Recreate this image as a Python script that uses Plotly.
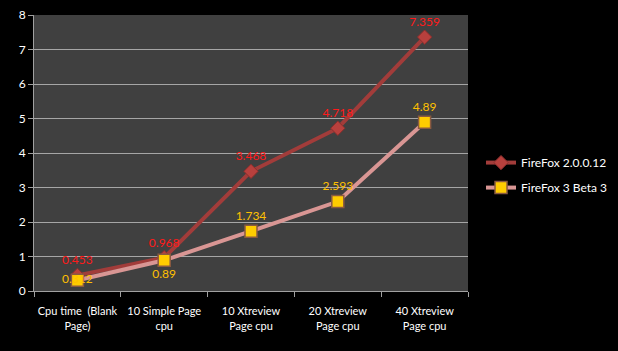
import plotly.graph_objects as go

categories = ["Cpu time  (Blank<br>Page)", "10 Simple Page<br>cpu", "10 Xtreview<br>Page cpu",
              "20 Xtreview<br>Page cpu", "40 Xtreview<br>Page cpu"]
ff2 = [0.453, 0.968, 3.468, 4.718, 7.359]
ff3 = [0.312, 0.89, 1.734, 2.593, 4.89]
ff3_textpos = ["middle center", "bottom center", "top center", "top center", "top center"]

font = "Lato, 'Open Sans', sans-serif"

fig = go.Figure()
fig.add_trace(go.Scatter(
    x=categories, y=ff2, name="FireFox 2.0.0.12", mode="lines+markers+text",
    legendgroup="a",
    line=dict(color="#a23c3a", width=4),
    marker=dict(symbol="diamond", size=11, color="#b8403d", line=dict(color="#8a2e2c", width=1)),
    text=[str(v) for v in ff2], textposition="top center",
    textfont=dict(color="#ff1a1a", size=12, family=font),
))
fig.add_trace(go.Scatter(
    x=categories, y=ff3, name="FireFox 3 Beta 3", mode="lines+markers+text",
    legendgroup="b",
    line=dict(color="#d99694", width=4),
    marker=dict(symbol="square", size=12, color="#ffcc00", line=dict(color="#8a5a40", width=1.5)),
    text=[str(v) for v in ff3], textposition=ff3_textpos,
    textfont=dict(color="#ffc000", size=12, family=font),
))

fig.update_layout(
    width=618, height=351,
    margin=dict(l=34, r=150, t=15, b=60, autoexpand=False),
    paper_bgcolor="black", plot_bgcolor="#404040",
    font=dict(family=font, color="white", size=12),
    showlegend=True,
    legend=dict(x=1.03, y=0.42, xanchor="left", yanchor="middle",
                font=dict(color="white", size=12, family=font), bgcolor="rgba(0,0,0,0)",
                tracegroupgap=6),
    xaxis=dict(showgrid=False, showline=True, linecolor="#a0a0a0", linewidth=1,
               ticks="outside", tickson="boundaries", tickcolor="#a0a0a0", ticklen=5,
               tickangle=0, automargin=False, ticklabelstandoff=10,
               tickfont=dict(color="white", size=11, family=font), range=[-0.5, 4.5]),
    yaxis=dict(range=[0, 8], dtick=1, showgrid=True, gridcolor="#a6a6a6", gridwidth=1,
               showline=True, linecolor="#a0a0a0", linewidth=1, zeroline=False,
               ticks="outside", tickcolor="#a0a0a0", ticklen=5, automargin=False,
               tickfont=dict(color="white", size=12, family=font)),
)

fig.write_html("out.html")
